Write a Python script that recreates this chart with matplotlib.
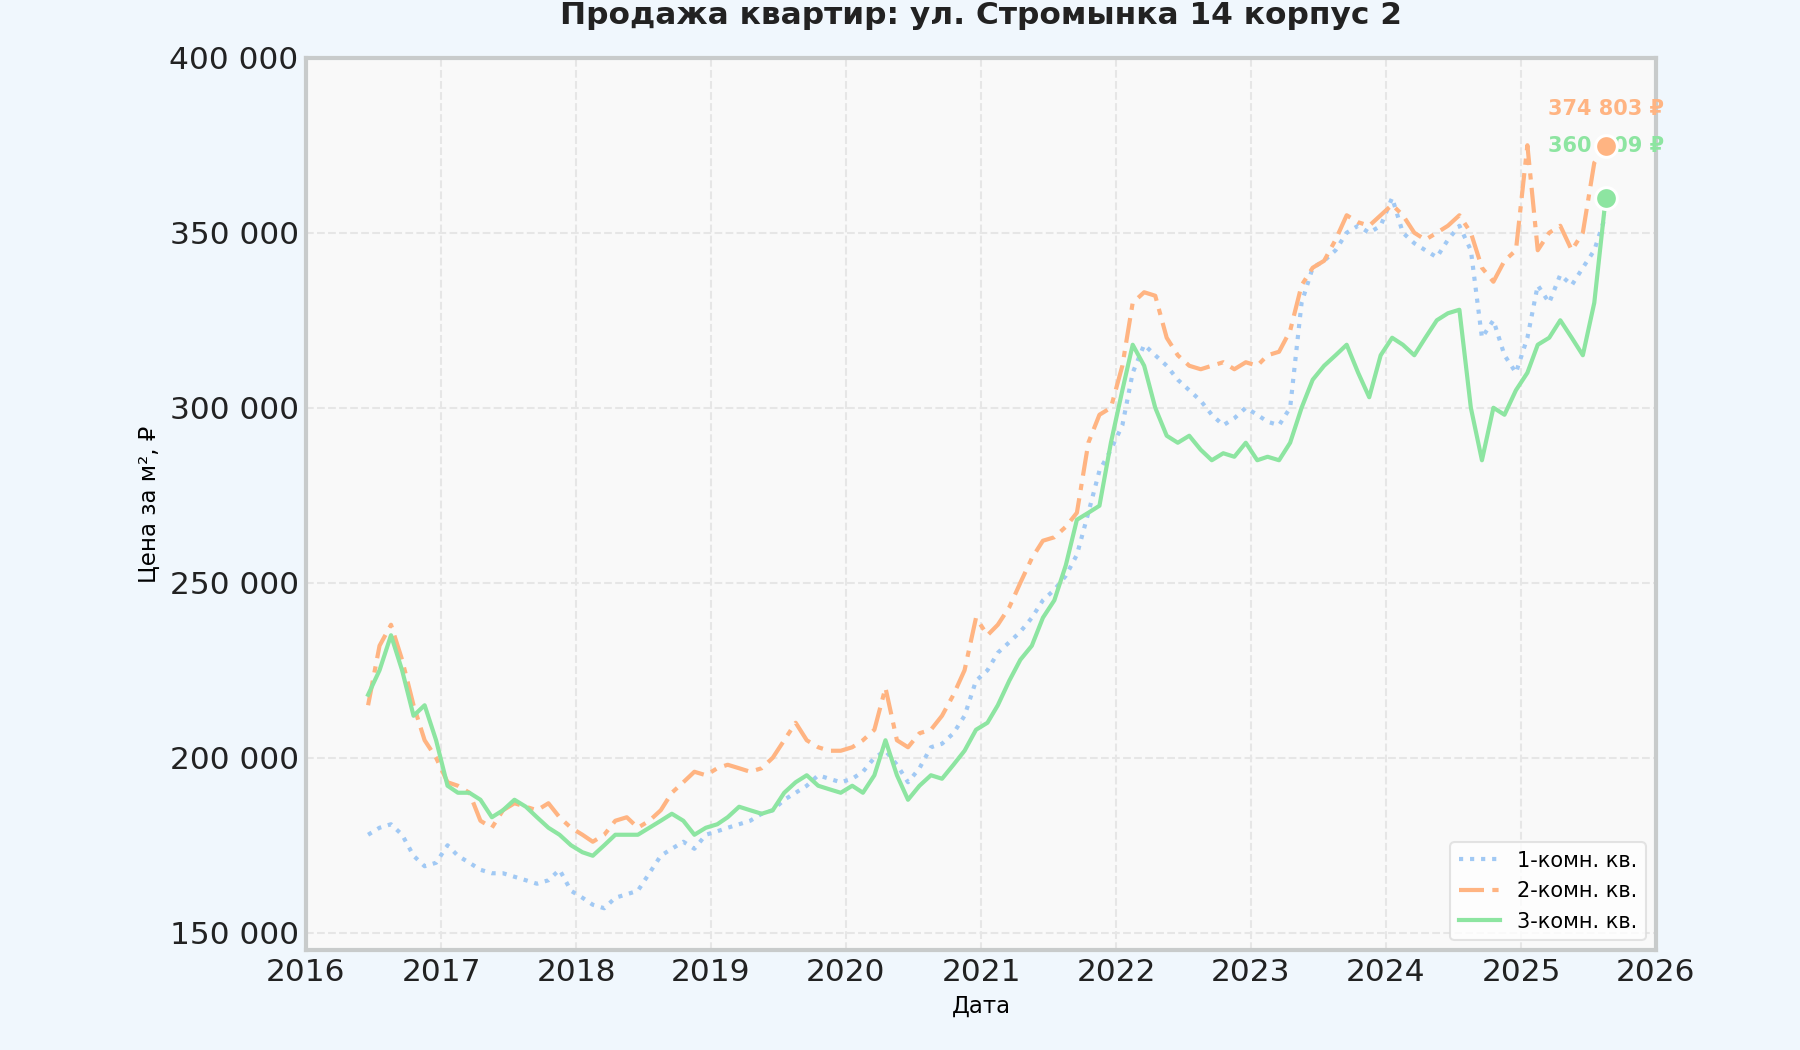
import matplotlib.pyplot as plt
import matplotlib.dates as mdates
import matplotlib.ticker as mticker
import pandas as pd

# monthly values, thousand rub per m2, Jun 2016 .. Aug 2025
room1 = [178, 180, 181, 178, 172, 169, 170,
         175, 172, 170, 168, 167, 167, 166, 165, 164, 165, 168, 162,
         160, 158, 157, 160, 161, 162, 167, 172, 174, 176, 174, 178,
         179, 180, 181, 182, 184, 185, 188, 190, 192, 195, 194, 193,
         194, 196, 200, 202, 198, 193, 197, 203, 204, 207, 212, 222,
         225, 230, 233, 236, 240, 245, 248, 252, 258, 270, 282, 288,
         295, 310, 318, 315, 312, 308, 305, 302, 298, 295, 297, 300,
         298, 296, 295, 300, 330, 340, 342, 345, 350, 352, 350, 352,
         360, 350, 347, 345, 343, 348, 352, 345, 320, 325, 315, 310,
         320, 335, 330, 338, 335, 340, 345, 355]
room2 = [215, 232, 238, 228, 215, 205, 200,
         193, 192, 190, 182, 180, 185, 187, 186, 185, 187, 183, 180,
         178, 176, 178, 182, 183, 180, 182, 185, 190, 193, 196, 195,
         197, 198, 197, 196, 197, 200, 205, 210, 205, 203, 202, 202,
         203, 205, 208, 220, 205, 203, 207, 208, 212, 218, 225, 240,
         235, 238, 243, 250, 257, 262, 263, 266, 270, 290, 298, 300,
         312, 330, 333, 332, 320, 315, 312, 311, 312, 313, 311, 313,
         312, 315, 316, 322, 335, 340, 342, 348, 355, 353, 352, 355,
         358, 355, 350, 348, 350, 352, 355, 350, 340, 336, 342, 345,
         375, 345, 350, 352, 345, 350, 370, 374.803]
room3 = [218, 225, 235, 225, 212, 215, 205,
         192, 190, 190, 188, 183, 185, 188, 186, 183, 180, 178, 175,
         173, 172, 175, 178, 178, 178, 180, 182, 184, 182, 178, 180,
         181, 183, 186, 185, 184, 185, 190, 193, 195, 192, 191, 190,
         192, 190, 195, 205, 195, 188, 192, 195, 194, 198, 202, 208,
         210, 215, 222, 228, 232, 240, 245, 255, 268, 270, 272, 290,
         305, 318, 312, 300, 292, 290, 292, 288, 285, 287, 286, 290,
         285, 286, 285, 290, 300, 308, 312, 315, 318, 310, 303, 315,
         320, 318, 315, 320, 325, 327, 328, 300, 285, 300, 298, 305,
         310, 318, 320, 325, 320, 315, 330, 360.009]

labels = ['1-комн. кв.', '2-комн. кв.', '3-комн. кв.']
colors = ['#a1c9f4', '#ffb482', '#8de5a1']
styles = [':', (0, (6, 2, 1.5, 2)), '-']

dates = pd.date_range('2016-06-15', periods=len(room1), freq='MS') - pd.Timedelta(days=14)

plt.rcParams['font.family'] = ['DejaVu Sans']
fig, ax = plt.subplots(figsize=(12, 7), dpi=150)
fig.patch.set_facecolor('#f0f7fd')
ax.set_facecolor('#f9f9f9')

for vals, lab, c, ls in zip([room1, room2, room3], labels, colors, styles):
    y = [v * 1000 for v in vals]
    ax.plot(dates, y, linestyle=ls, color=c, lw=2, label=lab)

# last-point markers for 2- and 3-room
for vals, c, dy in [(room2, colors[1], 15), (room3, colors[2], 22)]:
    v = vals[-1] * 1000
    ax.scatter(dates[-1], v, s=110, color=c, edgecolor='white', lw=1.5, zorder=5)
    ax.annotate(f'{v:,.0f} ₽'.replace(',', ' '), (dates[-1], v), xytext=(0, dy),
                textcoords='offset points', ha='center', color=c,
                fontsize=10, fontweight='bold')

ax.set_xlim(pd.Timestamp('2016-01-01'), pd.Timestamp('2026-01-01'))
ax.set_ylim(145000, 400000)
ax.xaxis.set_major_locator(mdates.YearLocator())
ax.xaxis.set_major_formatter(mdates.DateFormatter('%Y'))
ax.yaxis.set_major_locator(mticker.MultipleLocator(50000))
ax.yaxis.set_major_formatter(mticker.FuncFormatter(lambda v, p: f'{v:,.0f}'.replace(',', ' ')))
ax.tick_params(labelsize=15, length=0, colors='#222222')
ax.grid(True, ls='--', color='#e6e6e6', lw=1)
for s in ax.spines.values():
    s.set_color('#c8cbcb')
    s.set_linewidth(2)

ax.set_title('Продажа квартир: ул. Стромынка 14 корпус 2', fontsize=15,
             fontweight='bold', pad=16, color='#222222')
ax.set_xlabel('Дата', fontsize=11)
ax.set_ylabel('Цена за м², ₽', fontsize=11)
ax.legend(loc='lower right', fontsize=10, facecolor='white', edgecolor='#dddddd')

plt.subplots_adjust(left=0.17, right=0.92, top=0.945, bottom=0.095)
plt.savefig('out.png', facecolor=fig.get_facecolor())
